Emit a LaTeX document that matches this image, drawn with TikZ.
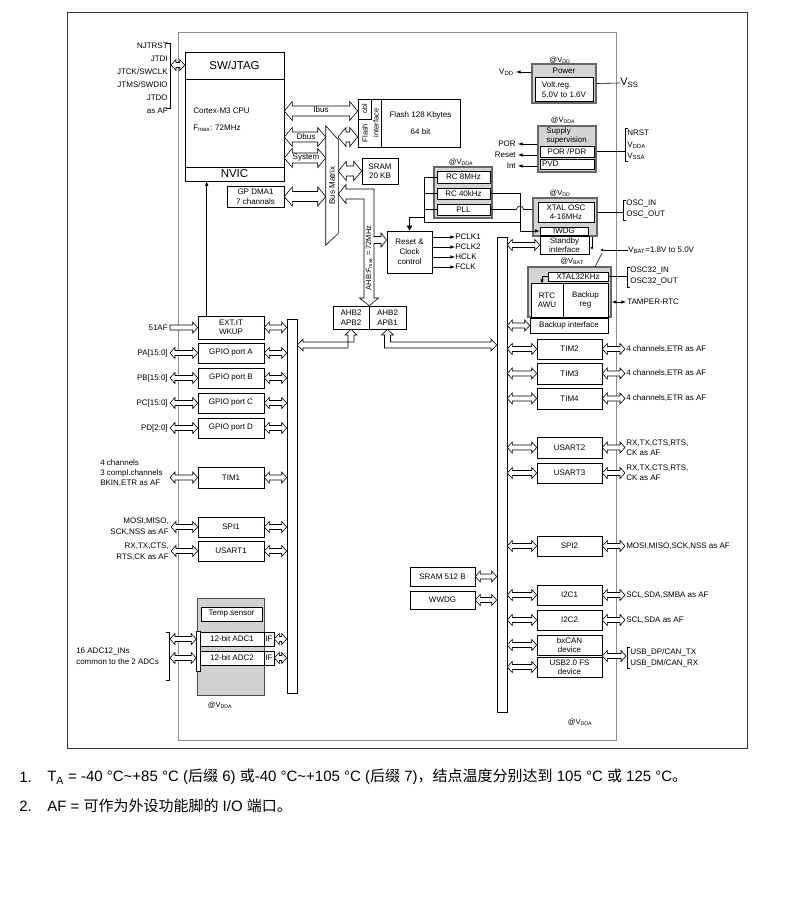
\documentclass[tikz,border=0pt]{standalone}
\usepackage{fontspec}
\setmainfont{Liberation Sans}
\newfontfamily\cjk{Noto Sans CJK SC}
\usetikzlibrary{arrows.meta,calc}
\newcommand{\vsub}[1]{\textsubscript{#1}}

\tikzset{
	fatsize/.code n args={3}{\def\fatlen{#1}\def\fathalf{#2}\def\fatshaft{#3}},
	fatboth/.style={draw, fill=white, to path={
		-- ($(\tikztostart)!\fatlen!(\tikztotarget)!\fathalf!90:(\tikztotarget)$)
		-- ($(\tikztostart)!\fatlen!(\tikztotarget)!\fatshaft!90:(\tikztotarget)$)
		-- ($(\tikztotarget)!\fatlen!(\tikztostart)!\fatshaft!-90:(\tikztostart)$)
		-- ($(\tikztotarget)!\fatlen!(\tikztostart)!\fathalf!-90:(\tikztostart)$)
		-- (\tikztotarget)
		-- ($(\tikztotarget)!\fatlen!(\tikztostart)!\fathalf!90:(\tikztostart)$)
		-- ($(\tikztotarget)!\fatlen!(\tikztostart)!\fatshaft!90:(\tikztostart)$)
		-- ($(\tikztostart)!\fatlen!(\tikztotarget)!\fatshaft!-90:(\tikztotarget)$)
		-- ($(\tikztostart)!\fatlen!(\tikztotarget)!\fathalf!-90:(\tikztotarget)$)
		-- cycle}},
	fatone/.style={draw, fill=white, to path={
		($(\tikztostart)!\fatshaft!90:(\tikztotarget)$)
		-- ($(\tikztotarget)!\fatlen!(\tikztostart)!\fatshaft!-90:(\tikztostart)$)
		-- ($(\tikztotarget)!\fatlen!(\tikztostart)!\fathalf!-90:(\tikztostart)$)
		-- (\tikztotarget)
		-- ($(\tikztotarget)!\fatlen!(\tikztostart)!\fathalf!90:(\tikztostart)$)
		-- ($(\tikztotarget)!\fatlen!(\tikztostart)!\fatshaft!90:(\tikztostart)$)
		-- ($(\tikztostart)!\fatshaft!-90:(\tikztotarget)$)
		-- cycle}}
}

\begin{document}
\begin{tikzpicture}[x=1pt, y=-1pt, line width=0.6pt, font={\fontsize{8}{9.5}\selectfont}]
	\tikzstyle{blk} = [
		draw, fill=white, rectangle,
		inner sep=0pt, align=center];
	\tikzstyle{lper} = [blk, minimum width=66pt, minimum height=20pt];
	\tikzstyle{rper} = [blk, minimum width=65pt, minimum height=20pt];
	\tikzstyle{dom} = [
		draw=black!60, line width=1.5pt, fill=black!17,
		rectangle, inner sep=0pt];
	\tikzstyle{busbar} = [
		draw, fill=white, rectangle,
		inner sep=0pt, minimum width=10pt];
	\tikzstyle{bus} = [fatboth, fatsize={5pt}{5.5pt}{2.5pt}];
	\tikzstyle{busin} = [fatone, fatsize={5pt}{5.5pt}{2.5pt}];
	\tikzstyle{wbus} = [fatboth, fatsize={8pt}{9.5pt}{5pt}];
	\tikzstyle{sig} = [->, >=latex];
	\tikzstyle{pinlbl} = [inner sep=0pt, anchor=west, align=left];
	\tikzstyle{rpinlbl} = [inner sep=0pt, anchor=east, align=right];
	\tikzstyle{domlbl} = [inner sep=0pt, font={\fontsize{7.5}{8}\selectfont}];

	\useasboundingbox (0,0) rectangle (806,909);

	% frame and chip outline
	\node[draw=black!80, minimum width=680pt, minimum height=736pt, inner sep=0pt] (frame) at (407,380) {};
	\node[draw=black!45, minimum width=438pt, minimum height=708pt, inner sep=0pt] (chip) at (397,386) {};

	% core
	\node[blk, minimum width=99pt, minimum height=129pt] (cpu) at (234.5,116.5) {};
	\draw (cpu.west |- 0,79) -- (cpu.east |- 0,79);
	\draw (cpu.west |- 0,167) -- (cpu.east |- 0,167);
	\node[font={\fontsize{11.5}{12}\selectfont}] (swjtag) at (234.5,65.5) {SW/JTAG};
	\node[pinlbl] (core) at (193,119.5) {Cortex-M3 CPU\\[7pt]F\vsub{max}: 72MHz};
	\node[font={\fontsize{11.5}{12}\selectfont}] (nvic) at (234.5,174) {NVIC};

	\node[rpinlbl, font={\fontsize{8}{13}\selectfont}] (jtag) at (168,78) {NJTRST\\JTDI\\JTCK/SWCLK\\JTMS/SWDIO\\JTDO\\as AF};
	\draw (166,43) -- (170,43) -- (170,108) -- (166,108);
	\coordinate (jtagb) at (171,65);
	\draw[bus] (jtagb) to (cpu.west |- jtagb);

	\node[blk, minimum width=57pt, minimum height=21pt] (dma) at (255.5,196.5) {GP DMA1\\7 channals};

	% bus matrix
	\node[minimum width=12pt, minimum height=119pt, inner sep=0pt] (bm) at (332,185.5) {};
	\draw[fill=white] (bm.north west) -- ([shift={(0,14)}]bm.north east)
		-- ([shift={(0,-12)}]bm.south east) -- (bm.south west) -- cycle;
	\node[rotate=90] (bmtext) at (bm.center) {Bus Matrix};

	% flash and sram
	\node[blk, minimum width=23pt, minimum height=48pt] (flashif) at (369.5,123) {};
	\node[blk, rotate=90, minimum width=20pt, minimum height=13pt, font={\fontsize{7}{7}\selectfont}] (obl) at (364.5,109) {obl};
	\node[rotate=90, font={\fontsize{7.5}{8}\selectfont}] (flashtxt) at (365,133) {Flash};
	\node[rotate=90, font={\fontsize{7.5}{8}\selectfont}] (iftxt) at (376,123) {interface};
	\node[blk, minimum width=79pt, minimum height=48pt] (flash) at (420.5,123) {Flash 128 Kbytes\\[8pt]64 bit};
	\node[blk, minimum width=36pt, minimum height=26pt] (sram) at (380,171) {SRAM\\20 KB};

	\draw[wbus] (cpu.east |- 0,111) to (flashif.west |- 0,111);
	\draw[wbus] (cpu.east |- 0,137) to (bm.west |- 0,137);
	\draw[wbus] (cpu.east |- 0,158) to (bm.west |- 0,158);
	\node (ibus) at (321,110) {Ibus};
	\node (dbus) at (306,137) {Dbus};
	\node (sysbus) at (306,158) {System};
	\draw[wbus] (dma.east) to (bm.west |- dma.east);
	\draw[wbus] (338,137) to (flashif.west |- 0,137);
	\draw[wbus] (bm.east |- sram) to (sram.west);

	% reset and clock control
	\node[blk, minimum width=45pt, minimum height=42pt, font={\fontsize{8}{10}\selectfont}] (rcc) at (409.5,252) {Reset \&\\Clock\\control};
	\node[pinlbl] (pclka) at (455,237) {PCLK1};
	\node[pinlbl] (pclkb) at (455,247) {PCLK2};
	\node[pinlbl] (hclk) at (455,257) {HCLK};
	\node[pinlbl] (fclk) at (455,267) {FCLK};
	\draw[sig] (rcc.east |- pclka) -- (pclka.west);
	\draw[sig] (rcc.east |- pclkb) -- (pclkb.west);
	\draw[sig] (rcc.east |- hclk) -- (hclk.west);
	\draw[sig] (rcc.east |- fclk) -- (fclk.west);

	% AHB
	\node[blk, minimum width=36pt, minimum height=23pt] (ahbapb2) at (351,317.5) {AHB2\\APB2};
	\node[blk, minimum width=37pt, minimum height=23pt] (ahbapb1) at (387.5,317.5) {AHB2\\APB1};
	\draw[fill=white] (bm.east |- 0,194) -- (346,184.5) -- (346,189) -- (374,189)
		-- (374,236.5) -- (381,236.5) -- (381,233) -- (rcc.west |- 0,240) -- (381,247) -- (381,243.5)
		-- (374,243.5) -- (374,298) -- (378.5,298) -- (ahbapb2.north east) -- (359.5,298) -- (364,298)
		-- (364,199) -- (346,199) -- (346,203.5) -- cycle;
	\node[rotate=90, font={\fontsize{7.5}{8}\selectfont}] (ahbtxt) at (369,258) {AHB:F\vsub{max} = 72MHz};

	% peripheral buses
	\node[busbar, minimum height=374pt] (apb2) at (292,506) {};
	\node[busbar, minimum height=475pt] (apb1) at (502,474.5) {};
	\draw[fill=white] (ahbapb2.south) -- (357,335) -- (354,335) -- (354,342) -- (303,342) -- (303,339)
		-- (apb2.east |- 0,345) -- (303,351) -- (303,348) -- (348,348) -- (348,335) -- (345,335) -- cycle;
	\draw[fill=white] (ahbapb1.south) -- (393.5,335) -- (390.5,335) -- (390.5,342) -- (491,342) -- (491,339)
		-- (apb1.west |- 0,345) -- (491,351) -- (491,348) -- (384.5,348) -- (384.5,335) -- (381.5,335) -- cycle;

	% APB2 side
	\node[lper, minimum height=23pt] (exti) at (231,327.5) {EXT.IT\\WKUP};
	\node[lper] (gpioa) at (231,353) {GPIO port A};
	\node[lper] (gpiob) at (231,378) {GPIO port B};
	\node[lper] (gpioc) at (231,403) {GPIO port C};
	\node[lper] (gpiod) at (231,428) {GPIO port D};
	\node[lper, minimum height=21pt] (tim1) at (231,477.5) {TIM1};
	\node[lper] (spi1) at (231,527) {SPI1};
	\node[lper] (usart1) at (231,551) {USART1};
	\draw[sig] ([xshift=9pt]exti.north west) -- ([xshift=9pt]exti.north west |- cpu.south);

	\node[rpinlbl] (af51) at (168,327.5) {51AF};
	\node[rpinlbl] (pa) at (168,353) {PA[15:0]};
	\node[rpinlbl] (pb) at (168,378) {PB[15:0]};
	\node[rpinlbl] (pc) at (168,403) {PC[15:0]};
	\node[rpinlbl] (pd) at (168,428) {PD[2:0]};
	\node[pinlbl, font={\fontsize{8}{10}\selectfont}] (tim1pins) at (100,473) {4 channels\\3 compl.channels\\BKIN,ETR as AF};
	\node[rpinlbl, font={\fontsize{8}{11}\selectfont}] (spi1pins) at (169,526.5) {MOSI,MISO,\\SCK,NSS as AF};
	\node[rpinlbl, font={\fontsize{8}{11}\selectfont}] (usart1pins) at (169,551.5) {RX,TX,CTS,\\RTS,CK as AF};

	\draw[busin] ([xshift=2pt]af51.east) to (exti.west);
	\draw[bus] ([xshift=2pt]pa.east) to (gpioa.west);
	\draw[bus] ([xshift=2pt]pb.east) to (gpiob.west);
	\draw[bus] ([xshift=2pt]pc.east) to (gpioc.west);
	\draw[bus] ([xshift=2pt]pd.east) to (gpiod.west);
	\draw[bus] (170,477.5) to (tim1.west);
	\draw[bus] ([xshift=2pt]spi1pins.east |- spi1) to (spi1.west);
	\draw[bus] ([xshift=2pt]usart1pins.east |- usart1) to (usart1.west);
	\draw[bus] (exti.east) to (apb2.west |- exti.east);
	\draw[bus] (gpioa.east) to (apb2.west |- gpioa.east);
	\draw[bus] (gpiob.east) to (apb2.west |- gpiob.east);
	\draw[bus] (gpioc.east) to (apb2.west |- gpioc.east);
	\draw[bus] (gpiod.east) to (apb2.west |- gpiod.east);
	\draw[bus] (tim1.east) to (apb2.west |- tim1.east);
	\draw[bus] (spi1.east) to (apb2.west |- spi1.east);
	\draw[bus] (usart1.east) to (apb2.west |- usart1.east);

	% ADCs
	\node[draw=black!70, fill=black!18, minimum width=67pt, minimum height=97pt, inner sep=0pt] (adcdom) at (230.5,646.5) {};
	\node[blk, minimum width=61pt, minimum height=14pt] (temp) at (231.5,614) {Temp.sensor};
	\node[blk, minimum width=64pt, minimum height=14pt] (adc1) at (232,639) {12-bit ADC1};
	\node[blk, minimum width=10pt, minimum height=14pt] (if1) at (269,639) {IF};
	\node[blk, minimum width=64pt, minimum height=14pt] (adc2) at (232,658) {12-bit ADC2};
	\node[blk, minimum width=10pt, minimum height=14pt] (if2) at (269,658) {IF};
	\node[blk, minimum width=4pt, minimum height=40pt] (adcmux) at (198.5,651) {};
	\draw (166,632) -- (169,632) -- (169,680) -- (166,680);
	\node[pinlbl, font={\fontsize{8}{11}\selectfont}] (adcpins) at (76,656.5) {16 ADC12\_INs\\common to the 2 ADCs};
	\draw[bus] (170,639) to (adcmux.west |- adc1);
	\draw[bus] (170,658) to (adcmux.west |- adc2);
	\draw[bus] (if1.east) to (apb2.west |- if1.east);
	\draw[bus] (if2.east) to (apb2.west |- if2.east);
	\node[domlbl] (adcv) at (220,705) {@V\vsub{DDA}};

	% power
	\node[dom, minimum width=64pt, minimum height=39pt] (power) at (564,83.5) {};
	\node (powert) at (564,71) {Power};
	\node[blk, minimum width=58pt, minimum height=24pt, align=left] (vreg) at (564,89.5) {Volt.reg.\\5.0V to 1.6V};
	\node[domlbl] (powerv) at (560,60) {@V\vsub{DD}};
	\node[rpinlbl] (vdd) at (514,72) {V\vsub{DD}};
	\node[pinlbl, font={\fontsize{11}{12}\selectfont}] (vss) at (620,83) {V\vsub{SS}};
	\draw[sig] (power.west |- vdd) -- ([xshift=2pt]vdd.east);
	\draw (power.east) -- (vss.west);

	% supply supervision
	\node[dom, minimum width=58pt, minimum height=46pt] (sup) at (567,149) {};
	\node[pinlbl] (supt) at (546,136) {Supply\\supervision};
	\node[blk, minimum width=54pt, minimum height=11pt] (porpdr) at (567,151.5) {POR /PDR};
	\node[blk, minimum width=54pt, minimum height=10pt, text width=50pt, align=left] (pvd) at (567,164) {PVD};
	\node[domlbl] (supv) at (563,120) {@V\vsub{DDA}};
	\node[rpinlbl] (por) at (516,144) {POR};
	\node[rpinlbl] (rst) at (516,155) {Reset};
	\node[rpinlbl] (int) at (516,166) {Int};
	\draw[sig] (sup.west |- por) -- ([xshift=2pt]por.east);
	\draw[sig] (sup.west |- rst) -- ([xshift=2pt]rst.east);
	\draw[sig] (sup.west |- int) -- ([xshift=2pt]int.east);
	\coordinate (nrstb) at (625,151.5);
	\draw (sup.east |- porpdr) -- (nrstb);
	\draw (628,128) -- (625,128) -- (625,161) -- (628,161);
	\node[pinlbl, font={\fontsize{8}{11.5}\selectfont}] (nrst) at (627,145) {NRST\\V\vsub{DDA}\\V\vsub{SSA}};

	% oscillators
	\node[dom, minimum width=58pt, minimum height=51pt] (rcdom) at (463,192.5) {};
	\node[domlbl] (rcv) at (461,162) {@V\vsub{DDA}};
	\node[blk, minimum width=53pt, minimum height=12pt] (rc8) at (463.5,177) {RC 8MHz};
	\node[blk, minimum width=53pt, minimum height=11pt] (rc40) at (463.5,193.5) {RC 40kHz};
	\node[blk, minimum width=53pt, minimum height=11pt] (pll) at (463.5,209.5) {PLL};

	\node[dom, minimum width=64pt, minimum height=38pt] (xdom) at (565,217) {};
	\node[blk, minimum width=56pt, minimum height=20pt] (xosc) at (566,212) {XTAL OSC\\4-16MHz};
	\node[blk, minimum width=48pt, minimum height=8pt] (iwdg) at (564,231) {IWDG};
	\node[blk, minimum width=49pt, minimum height=18pt] (stby) at (564.5,245) {Standby\\interface};
	\node[domlbl] (xv) at (560,193) {@V\vsub{DD}};

	\coordinate (clkl) at (424,222);
	\coordinate (clkr) at (520,222);
	\draw (rc8.west) -| (clkl) -- (clkr);
	\draw (rc40.west) -- (rc40.west -| clkl);
	\draw (pll.west) -- (pll.west -| clkl);
	\draw[-{Latex[length=5pt,width=6pt]}] (clkl |- 0,217) -| (rcc.north);
	\draw[sig] (rc40.east) -| (clkr |- iwdg) -- (iwdg.west);
	\draw (xdom.west |- pll) -- ([xshift=3.5pt]clkr |- pll) arc (0:-180:3.5) -- (pll.east);

	\node[pinlbl, font={\fontsize{8}{11}\selectfont}] (osc) at (626,209.5) {OSC\_IN\\OSC\_OUT};
	\draw (xdom.east |- xosc) -- (623,212);
	\draw (626,200) -- (623,200) -- (623,220) -- (626,220);
	\draw[bus] (apb1.east |- stby) to (stby.west);

	% backup domain
	\node[dom, minimum width=83pt, minimum height=50pt] (vbdom) at (569.5,292) {};
	\node[blk, minimum width=60pt, minimum height=9pt] (x32) at (578,276.5) {XTAL32KHz};
	\node[blk, minimum width=32pt, minimum height=34pt] (rtc) at (547,300) {RTC\\AWU};
	\node[blk, minimum width=45pt, minimum height=34pt] (bkreg) at (585.5,300) {Backup\\reg};
	\node[blk, minimum width=78pt, minimum height=15pt] (bkif) at (569,325.5) {Backup interface};
	\node[domlbl] (vbv) at (572,261) {@V\vsub{BAT}};
	\draw[sig] (x32.west) -| (542,284);

	\node[pinlbl] (vbat) at (628,250) {V\vsub{BAT}=1.8V to 5.0V};
	\coordinate (swb) at (600,250);
	\coordinate (swa) at (595,267);
	\draw[-{Latex[length=3pt,width=3pt]}] (vbat.west) -- (swb);
	\draw (swa) -- ([shift={(2,3)}]swb);
	\draw[-{Latex[length=3pt,width=3pt]}] (xdom.south -| 592,0) -- (592,250);

	\node[pinlbl, font={\fontsize{8}{11}\selectfont}] (osc32) at (630,276.5) {OSC32\_IN\\OSC32\_OUT};
	\draw (x32.east) -- (627,276.5);
	\draw (630,267) -- (627,267) -- (627,287) -- (630,287);
	\node[pinlbl] (tamper) at (627,302) {TAMPER-RTC};
	\draw[latex-latex] (vbdom.east |- tamper) -- ([xshift=-1pt]tamper.west);
	\draw[bus] (apb1.east |- bkif) to (bkif.west);

	% APB1 side
	\node[rper] (tim2) at (569.5,349) {TIM2};
	\node[rper, minimum height=21pt] (tim3) at (569.5,373.5) {TIM3};
	\node[rper, minimum height=21pt] (tim4) at (569.5,398.5) {TIM4};
	\node[rper, minimum height=21pt] (usart2) at (569.5,447.5) {USART2};
	\node[rper] (usart3) at (569.5,473) {USART3};
	\node[rper] (spi2) at (569.5,546) {SPI2};
	\node[rper] (i2c1) at (569.5,595) {I2C1};
	\node[rper] (i2c2) at (569.5,620) {I2C2};
	\node[rper] (bxcan) at (569.5,645) {bxCAN\\device};
	\node[rper] (usb) at (569.5,667) {USB2.0 FS\\device};
	\node[blk, minimum width=65pt, minimum height=19pt] (sram512) at (442.5,576.5) {SRAM 512 B};
	\node[blk, minimum width=65pt, minimum height=18pt] (wwdg) at (442.5,600) {WWDG};

	\node[pinlbl] (tim2pins) at (626,349) {4 channels,ETR as AF};
	\node[pinlbl] (tim3pins) at (626,373.5) {4 channels,ETR as AF};
	\node[pinlbl] (tim4pins) at (626,398.5) {4 channels,ETR as AF};
	\node[pinlbl, font={\fontsize{8}{10}\selectfont}] (usart2pins) at (626,447.5) {RX,TX,CTS,RTS,\\CK as AF};
	\node[pinlbl, font={\fontsize{8}{10}\selectfont}] (usart3pins) at (626,473) {RX,TX,CTS,RTS,\\CK as AF};
	\node[pinlbl] (spi2pins) at (626,546) {MOSI,MISO,SCK,NSS as AF};
	\node[pinlbl] (i2c1pins) at (626,595) {SCL,SDA,SMBA as AF};
	\node[pinlbl] (i2c2pins) at (626,620) {SCL,SDA as AF};
	\node[pinlbl, font={\fontsize{8}{11}\selectfont}] (usbpins) at (630,657.5) {USB\_DP/CAN\_TX\\USB\_DM/CAN\_RX};
	\draw (630,647) -- (627,647) -- (627,668) -- (630,668);
	\coordinate (usbb) at (626,656);

	\draw[bus] (apb1.east |- tim2) to (tim2.west);
	\draw[bus] (apb1.east |- tim3) to (tim3.west);
	\draw[bus] (apb1.east |- tim4) to (tim4.west);
	\draw[bus] (apb1.east |- usart2) to (usart2.west);
	\draw[bus] (apb1.east |- usart3) to (usart3.west);
	\draw[bus] (apb1.east |- spi2) to (spi2.west);
	\draw[bus] (apb1.east |- i2c1) to (i2c1.west);
	\draw[bus] (apb1.east |- i2c2) to (i2c2.west);
	\draw[bus] (apb1.east |- bxcan) to (bxcan.west);
	\draw[bus] (apb1.east |- usb) to (usb.west);
	\draw[bus] (sram512.east) to (apb1.west |- sram512);
	\draw[bus] (wwdg.east) to (apb1.west |- wwdg);

	\draw[bus] (tim2.east) to ([xshift=-1pt]tim2pins.west);
	\draw[bus] (tim3.east) to ([xshift=-1pt]tim3pins.west);
	\draw[bus] (tim4.east) to ([xshift=-1pt]tim4pins.west);
	\draw[bus] (usart2.east) to ([xshift=-1pt]usart2pins.west);
	\draw[bus] (usart3.east) to ([xshift=-1pt]usart3pins.west);
	\draw[bus] (spi2.east) to ([xshift=-1pt]spi2pins.west);
	\draw[bus] (i2c1.east) to ([xshift=-1pt]i2c1pins.west);
	\draw[bus] (i2c2.east) to ([xshift=-1pt]i2c2pins.west);
	\draw[bus] (bxcan.east |- usbb) to (usbb);

	\node[domlbl] (chipv) at (580,722) {@V\vsub{DDA}};

	% notes
	\node[pinlbl, font={\fontsize{15}{16}\selectfont}] (note1n) at (19,777) {1.};
	\node[pinlbl, font={\fontsize{15}{16}\selectfont}] (note1) at (47,777) {T\vsub{A} = -40 °C\textasciitilde+85 °C ({\cjk 后缀} 6) {\cjk 或}-40 °C\textasciitilde+105 °C ({\cjk 后缀} 7){\cjk ，结点温度分别达到} 105 °C {\cjk 或} 125 °C{\cjk 。}};
	\node[pinlbl, font={\fontsize{15}{16}\selectfont}] (note2n) at (19,806) {2.};
	\node[pinlbl, font={\fontsize{15}{16}\selectfont}] (note2) at (47,806) {AF = {\cjk 可作为外设功能脚的} I/O {\cjk 端口。}};
\end{tikzpicture}
\end{document}
